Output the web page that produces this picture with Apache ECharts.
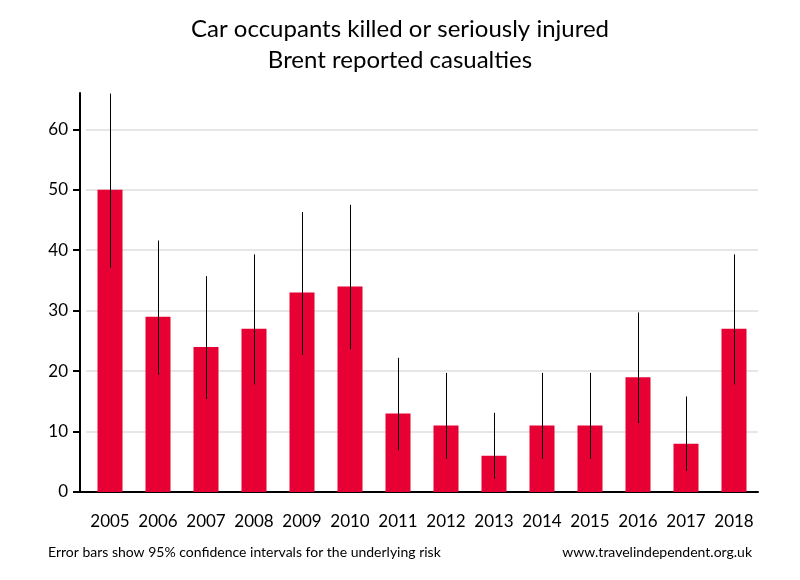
<!DOCTYPE html>
<html>
<head>
<meta charset="utf-8">
<script src="https://cdn.jsdelivr.net/npm/echarts@6/dist/echarts.min.js"></script>
<style>html,body{margin:0;padding:0;background:#fff}#c{width:800px;height:580px}</style>
</head>
<body>
<div id="c"></div>
<script>
const years = ['2005','2006','2007','2008','2009','2010','2011','2012','2013','2014','2015','2016','2017','2018'];
const casualties = [50, 29, 24, 27, 33, 34, 13, 11, 6, 11, 11, 19, 8, 27];
const lowerCI = [37.1, 19.4, 15.4, 17.8, 22.7, 23.6, 6.9, 5.5, 2.2, 5.5, 5.5, 11.4, 3.5, 17.8];
const upperCI = [65.9, 41.6, 35.7, 39.3, 46.3, 47.5, 22.2, 19.7, 13.1, 19.7, 19.7, 29.7, 15.8, 39.3];
const yTicks = [0, 10, 20, 30, 40, 50, 60];

const FONT = 'Lato';
const chart = echarts.init(document.getElementById('c'), null, {renderer: 'canvas'});
chart.setOption({
  animation: false,
  backgroundColor: '#ffffff',
  textStyle: {fontFamily: FONT},
  title: [{
    text: 'Car occupants killed or seriously injured\nBrent reported casualties',
    left: 'center', top: 9,
    textStyle: {fontFamily: FONT, fontSize: 24, fontWeight: 'normal', color: '#000', lineHeight: 31}
  }],
  graphic: [
    {type: 'text', left: 48, top: 545, style: {text: 'Error bars show 95% confidence intervals for the underlying risk', font: '14px Lato', fill: '#000'}},
    {type: 'text', right: 48, top: 545, style: {text: 'www.travelindependent.org.uk', font: '14px Lato', fill: '#000'}},
    {type: 'line', shape: {x1: 79, y1: 492, x2: 87, y2: 492}, style: {stroke: '#000', lineWidth: 2}}
  ],
  grid: {left: 86, right: 42, top: 93, bottom: 88, containLabel: false},
  xAxis: {
    type: 'category', data: years,
    axisLine: {lineStyle: {color: '#000', width: 2}},
    axisTick: {show: false},
    axisLabel: {color: '#000', fontSize: 17, fontFamily: FONT, margin: 21, interval: 0}
  },
  yAxis: {
    type: 'value', min: 0, max: 66, offset: 6,
    axisLine: {show: true, lineStyle: {color: '#000', width: 2}},
    axisTick: {show: true, length: 7, lineStyle: {color: '#000', width: 2}, customValues: yTicks},
    axisLabel: {color: '#000', fontSize: 17, fontFamily: FONT, margin: 12, customValues: yTicks},
    splitLine: {show: true, lineStyle: {color: '#e6e6e6', width: 2}}
  },
  series: [
    {type: 'bar', data: casualties, barWidth: 25, itemStyle: {color: '#e60033'}, z: 2},
    {
      type: 'custom', z: 3,
      data: years.map((y, i) => [i, lowerCI[i], upperCI[i]]),
      renderItem: function (params, api) {
        const lo = api.coord([api.value(0), api.value(1)]);
        const hi = api.coord([api.value(0), api.value(2)]);
        const x = Math.round(lo[0]) + 0.5;
        return {type: 'line', shape: {x1: x, y1: lo[1], x2: x, y2: hi[1]}, style: {stroke: '#000', lineWidth: 1}};
      }
    }
  ]
});
</script>
</body>
</html>
